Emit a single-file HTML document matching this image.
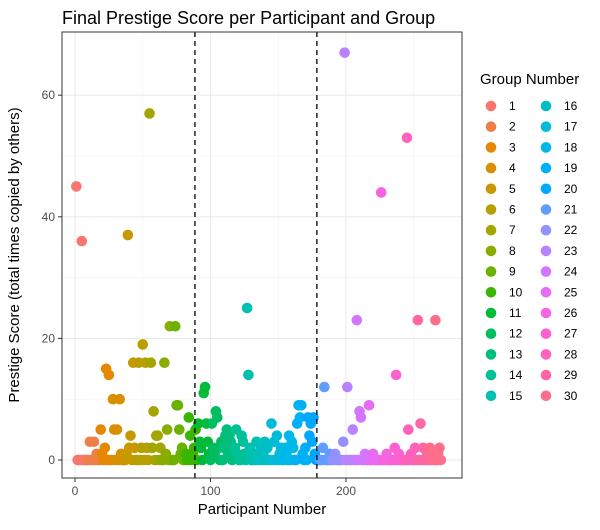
<!DOCTYPE html>
<html><head><meta charset="utf-8"><style>
body{margin:0;background:#fff;font-family:"Liberation Sans",Arial,sans-serif}
</style></head><body>
<svg id="chart" width="600" height="525" viewBox="0 0 600 525" xmlns="http://www.w3.org/2000/svg">
<text x="62" y="24" font-size="18" fill="#000">Final Prestige Score per Participant and Group</text>
<g id="grid"></g>
<g id="marks"></g>
<rect x="62" y="32" width="400" height="446" fill="none" stroke="#333" stroke-width="1"/>
<g id="axes"></g>
<text x="262" y="514" font-size="15" text-anchor="middle">Participant Number</text>
<text transform="translate(19,255) rotate(-90)" font-size="15" text-anchor="middle">Prestige Score (total times copied by others)</text>
<text x="480" y="84" font-size="15">Group Number</text>
<g id="legend"></g>
</svg>
<script>
const groupSize = 9;
const scores = [
45,0,0,0,36,0,0,0,0,
0,3,0,0,3,0,1,0,0,
5,1,0,2,15,0,14,0,0,
10,5,0,5,0,10,1,0,0,
0,1,37,2,4,0,16,2,0,
0,16,0,2,19,0,16,2,0,
57,16,2,8,0,4,4,0,2,
0,0,16,1,5,0,22,0,0,
0,22,9,9,5,1,2,0,0,
1,0,7,4,0,1,2,5,0,
6,3,2,0,11,12,6,3,1,
0,6,2,1,8,7,2,0,3,
0,2,4,5,1,4,3,0,2,
2,5,1,0,0,4,3,1,0,
25,14,2,0,0,1,0,3,0,
0,2,0,1,3,0,2,0,0,
6,0,3,0,4,0,1,2,0,
0,2,1,0,4,0,3,2,0,
0,6,9,7,9,1,0,2,0,
7,4,6,3,7,1,0,0,0,
0,0,2,12,0,0,0,1,0,
0,0,1,0,0,0,0,0,3,
67,0,12,0,0,0,5,0,0,
23,0,8,7,0,0,1,0,0,
9,0,0,1,0,0,0,0,0,
44,0,0,0,1,0,0,0,0,
0,2,14,0,1,0,0,0,0,
0,53,5,0,1,0,0,2,0,
23,0,6,0,2,0,0,1,0,
2,0,1,0,23,0,1,2,0];
const xTicks=[0,100,200];
const yTicks=[0,20,40,60];
const xMinor=[50,150,250];
const yMinor=[10,30,50];
const vlines=[88.5,178.5];
const nGroups=30;

const X=v=>75+v*1.355;
const Y=v=>460-v*6.08;
const NS="http://www.w3.org/2000/svg";
function mk(t,a,p){const e=document.createElementNS(NS,t);for(const k in a)e.setAttribute(k,a[k]);p.appendChild(e);return e;}
function hcl(h,c,l){
 const hr=h*Math.PI/180,U=c*Math.cos(hr),V=c*Math.sin(hr);
 const un=0.19783,vn=0.46832;
 let Yv=l>8?Math.pow((l+16)/116,3):l/903.3;
 const u=U/(13*l)+un,v=V/(13*l)+vn;
 const Xv=9*Yv*u/(4*v),Zv=Yv*(12-3*u-20*v)/(4*v);
 let r=3.2406*Xv-1.5372*Yv-0.4986*Zv,g=-0.9689*Xv+1.8758*Yv+0.0415*Zv,b=0.0557*Xv-0.2040*Yv+1.0570*Zv;
 const f=x=>{x=x<=0.0031308?12.92*x:1.055*Math.pow(x,1/2.4)-0.055;return Math.round(Math.max(0,Math.min(1,x))*255);};
 return `rgb(${f(r)},${f(g)},${f(b)})`;
}
const colors=[];for(let i=0;i<nGroups;i++)colors.push(hcl(15+360*i/nGroups,100,65));
const grid=document.getElementById('grid'),marks=document.getElementById('marks'),axes=document.getElementById('axes'),legend=document.getElementById('legend');
xMinor.forEach(v=>{const l=mk('line',{x1:X(v),x2:X(v),y1:32,y2:478,stroke:'#f2f2f2','stroke-width':0.6},grid);

});
yMinor.forEach(v=>{const l=mk('line',{x1:62,x2:462,y1:Y(v),y2:Y(v),stroke:'#f2f2f2','stroke-width':0.6},grid);

});
xTicks.forEach(v=>{const l=mk('line',{x1:X(v),x2:X(v),y1:32,y2:478,stroke:'#ebebeb','stroke-width':1.1},grid);


const t=mk('line',{x1:X(v),x2:X(v),y1:478,y2:482,stroke:'#333'},axes);


const tx=mk('text',{x:X(v),y:495,'font-size':12,'text-anchor':'middle',fill:'#4d4d4d'},axes);tx.textContent=v;

});
yTicks.forEach(v=>{const l=mk('line',{x1:62,x2:462,y1:Y(v),y2:Y(v),stroke:'#ebebeb','stroke-width':1.1},grid);


const t=mk('line',{x1:58,x2:62,y1:Y(v),y2:Y(v),stroke:'#333'},axes);


const tx=mk('text',{x:55,y:Y(v)+4,'font-size':12,'text-anchor':'end',fill:'#4d4d4d'},axes);tx.textContent=v;

});
scores.forEach((s,i)=>{const n=i+1,g=Math.floor(i/groupSize);
const c=mk('circle',{cx:X(n),cy:Y(s),r:5.3,fill:colors[g]},marks);

});
vlines.forEach(v=>{const l=mk('line',{x1:X(v),x2:X(v),y1:32,y2:478,stroke:'#000','stroke-width':1.3,'stroke-dasharray':'5,4'},marks);

});
for(let i=0;i<nGroups;i++){const col=Math.floor(i/15),row=i%15;
const cx=491+col*55,cy=106+row*20.7;
const d=mk('circle',{cx:cx,cy:cy,r:5.3,fill:colors[i]},legend);


const t=mk('text',{x:cx+18,y:cy+4,'font-size':12,fill:'#000'},legend);t.textContent=i+1;

}
</script>
</body></html>
